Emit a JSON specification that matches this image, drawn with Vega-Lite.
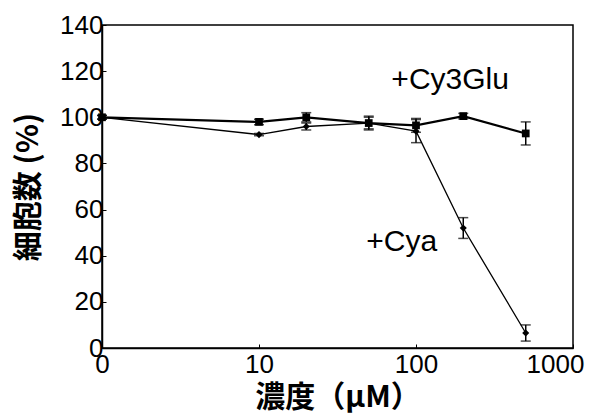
{
  "$schema": "https://vega.github.io/schema/vega-lite/v6.json",
  "width": 471,
  "height": 323,
  "autosize": "none",
  "padding": {"left": 102, "top": 25, "right": 21, "bottom": 70},
  "background": "white",
  "config": {
    "view": {"stroke": "black", "strokeWidth": 1.5},
    "axis": {"grid": false, "domainColor": "black", "domainWidth": 1.5, "tickColor": "black", "labelColor": "black", "titleColor": "black", "labelFont": "Liberation Sans", "labelFontSize": 26}
  },
  "datasets": {
    "cells": [
      {"series": "+Cy3Glu", "conc": 1, "pct": 100, "err": 0.8},
      {"series": "+Cy3Glu", "conc": 10, "pct": 98, "err": 1.2},
      {"series": "+Cy3Glu", "conc": 20, "pct": 100, "err": 2},
      {"series": "+Cy3Glu", "conc": 50, "pct": 97.5, "err": 3},
      {"series": "+Cy3Glu", "conc": 100, "pct": 96.5, "err": 3},
      {"series": "+Cy3Glu", "conc": 200, "pct": 100.5, "err": 1.2},
      {"series": "+Cy3Glu", "conc": 500, "pct": 93, "err": 5},
      {"series": "+Cya", "conc": 1, "pct": 100, "err": 0.8},
      {"series": "+Cya", "conc": 10, "pct": 92.5, "err": 0.5},
      {"series": "+Cya", "conc": 20, "pct": 96, "err": 1.5},
      {"series": "+Cya", "conc": 50, "pct": 97.5, "err": 2.5},
      {"series": "+Cya", "conc": 100, "pct": 94, "err": 5},
      {"series": "+Cya", "conc": 200, "pct": 52, "err": 4.5},
      {"series": "+Cya", "conc": 500, "pct": 6.5, "err": 3.5}
    ],
    "labels": [
      {"conc": 165, "pct": 116, "text": "+Cy3Glu"},
      {"conc": 81, "pct": 46, "text": "+Cya"}
    ]
  },
  "encoding": {
    "x": {
      "field": "conc", "type": "quantitative",
      "scale": {"type": "log", "domain": [1, 1000], "nice": false},
      "axis": {
        "values": [1, 10, 100, 1000],
        "labelExpr": "datum.value == 1 ? '0' : datum.label",
        "format": "d",
        "tickSize": -4,
        "labelPadding": 7,
        "labelFlush": false,
        "labelOffset": {"condition": {"test": "datum.value == 1000", "value": -18}, "value": 0},
        "title": "濃度（μM）",
        "titleFont": "Noto Sans CJK JP",
        "titleFontSize": 30,
        "titleFontWeight": "bold",
        "titlePadding": 5
      }
    },
    "y": {
      "field": "pct", "type": "quantitative",
      "scale": {"domain": [0, 140], "nice": false},
      "axis": {
        "values": [0, 20, 40, 60, 80, 100, 120, 140],
        "tickSize": -4,
        "labelPadding": 3,
        "title": "細胞数 (%)",
        "titleFont": "Noto Sans CJK JP",
        "titleFontSize": 30,
        "titleFontWeight": "bold",
        "titlePadding": 16
      }
    }
  },
  "layer": [
    {
      "data": {"name": "cells"},
      "mark": {"type": "errorbar", "ticks": {"size": 10, "color": "black", "strokeWidth": 1.5}, "color": "black", "thickness": 1.5},
      "encoding": {
        "x": {"field": "conc", "type": "quantitative"},
        "y": {"field": "pct", "type": "quantitative"},
        "yError": {"field": "err"},
        "detail": {"field": "series"}
      }
    },
    {
      "data": {"name": "cells"},
      "transform": [{"filter": "datum.series == '+Cy3Glu'"}],
      "mark": {"type": "line", "color": "black", "strokeWidth": 2.2, "point": {"shape": "square", "size": 60, "filled": true, "color": "black"}},
      "encoding": {}
    },
    {
      "data": {"name": "cells"},
      "transform": [{"filter": "datum.series == '+Cya'"}],
      "mark": {"type": "line", "color": "black", "strokeWidth": 1.3, "point": {"shape": "diamond", "size": 50, "filled": true, "color": "black"}},
      "encoding": {}
    },
    {
      "data": {"name": "labels"},
      "mark": {"type": "text", "font": "Liberation Sans", "fontSize": 30, "color": "black", "align": "center", "baseline": "middle"},
      "encoding": {"text": {"field": "text"}}
    }
  ]
}
